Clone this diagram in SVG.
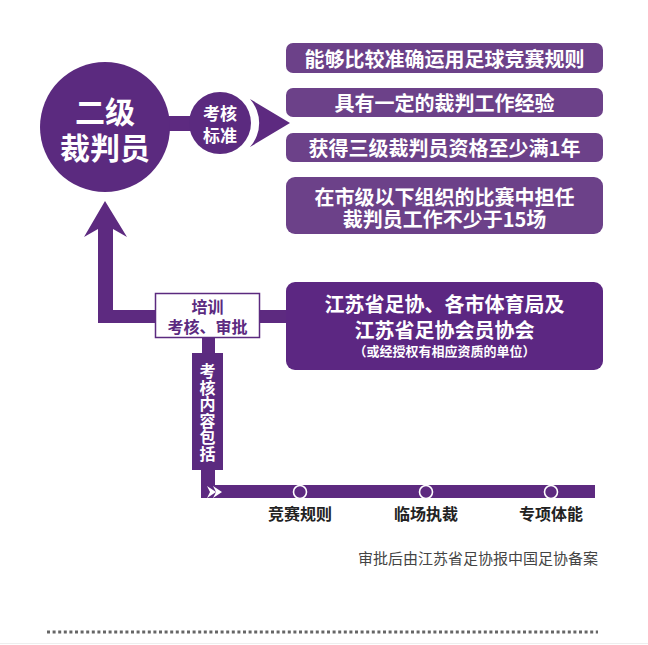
<svg xmlns="http://www.w3.org/2000/svg" width="648" height="645" viewBox="0 0 648 645">
<style>
text{font-family:"Noto Sans CJK SC","Noto Sans",sans-serif;text-anchor:middle;dominant-baseline:central}
.w{fill:#fff;font-weight:700}
.p{fill:#5b2a7f;font-weight:700}
.lb{fill:#222;font-weight:700;font-size:16px}
.req{fill:#6c4189}
.conn{fill:#5d2a80}
.vt{writing-mode:vertical-rl;text-orientation:upright;text-anchor:start}
</style>
<rect width="648" height="645" fill="#fff"/>
<g id="connectors">
<rect class="conn" x="168" y="116" width="23" height="15" fill="#6a3a86"/>
<path class="conn" d="M250 99 L290 123 L250 147 A36 36 0 0 0 250 99 Z"/>
<path class="conn" d="M105 201 L127 237 L113 229 L113 310 L156 310 L156 323 L98 323 L98 229 L84 237 Z"/>
<rect class="conn" x="259" y="310" width="28" height="13" fill="#6a3a86"/>
<rect class="conn" x="202" y="337" width="13" height="17"/>
<path class="conn" d="M201 469 L215 469 L215 485 L595 485 L595 498 L201 498 Z"/>
<path fill="#fff" d="M207 486 L216 492 L207 498 L210 492 Z M213 486 L222 492 L213 498 L216 492 Z"/>
<circle cx="300" cy="492" r="6.5" fill="#5d2a80" stroke="#fff" stroke-width="1.6"/>
<circle cx="426" cy="492" r="6.5" fill="#5d2a80" stroke="#fff" stroke-width="1.6"/>
<circle cx="551" cy="492" r="6.5" fill="#5d2a80" stroke="#fff" stroke-width="1.6"/>
</g>
<g id="referee">
<circle cx="105" cy="127" r="65" fill="#5b2a7f"/>
<text class="w" x="105" y="110" font-size="30" font-weight="900">二级</text>
<text class="w" x="105" y="146" font-size="30" font-weight="900">裁判员</text>
</g>
<g id="standard">
<circle cx="220" cy="123" r="31" fill="#5b2a7f"/>
<text class="w" x="220" y="112" font-size="17">考核</text>
<text class="w" x="220" y="134" font-size="17">标准</text>
</g>
<g id="req1">
<rect class="req" x="286" y="43" width="317" height="30" rx="7"/>
<text class="w" x="444.5" y="58" font-size="20">能够比较准确运用足球竞赛规则</text>
</g>
<g id="req2">
<rect class="req" x="286" y="88" width="317" height="29" rx="7"/>
<text class="w" x="444.5" y="102.5" font-size="20">具有一定的裁判工作经验</text>
</g>
<g id="req3">
<rect class="req" x="286" y="133" width="317" height="29" rx="7"/>
<text class="w" x="444.5" y="147.5" font-size="20">获得三级裁判员资格至少满1年</text>
</g>
<g id="req4">
<rect class="req" x="286" y="177" width="317" height="57" rx="9"/>
<text class="w" x="444.5" y="196" font-size="20">在市级以下组织的比赛中担任</text>
<text class="w" x="444.5" y="218" font-size="20">裁判员工作不少于15场</text>
</g>
<g id="training">
<rect x="155.5" y="293.5" width="104" height="44" fill="#fff" stroke="#5b2a7f" stroke-width="1.5"/>
<text class="p" x="207.5" y="306" font-size="16">培训</text>
<text class="p" x="207.5" y="326" font-size="16">考核、审批</text>
</g>
<g id="authority">
<rect x="286" y="282" width="317" height="88" rx="9" fill="#5c2782"/>
<text class="w" x="444.5" y="303" font-size="20">江苏省足协、各市体育局及</text>
<text class="w" x="444.5" y="329" font-size="20">江苏省足协会员协会</text>
<text class="w" x="444.5" y="350" font-size="13">（或经授权有相应资质的单位）</text>
</g>
<g id="content">
<rect x="192" y="353" width="31" height="117" fill="#5b2a7f"/>
<text class="w vt" x="207.5" y="363" font-size="16" letter-spacing="0.5">考核内容包括</text>
</g>
<g id="items">
<text class="lb" x="300" y="513">竞赛规则</text>
<text class="lb" x="426" y="513">临场执裁</text>
<text class="lb" x="551" y="513">专项体能</text>
</g>
<g id="note">
<text x="598" y="557" font-size="15" fill="#444" style="text-anchor:end">审批后由江苏省足协报中国足协备案</text>
</g>
<line x1="47" y1="632" x2="598" y2="632" stroke="#666" stroke-width="3" stroke-dasharray="3 2.6"/>
<line x1="0" y1="643.5" x2="648" y2="643.5" stroke="#eeeeee" stroke-width="1"/>
</svg>
